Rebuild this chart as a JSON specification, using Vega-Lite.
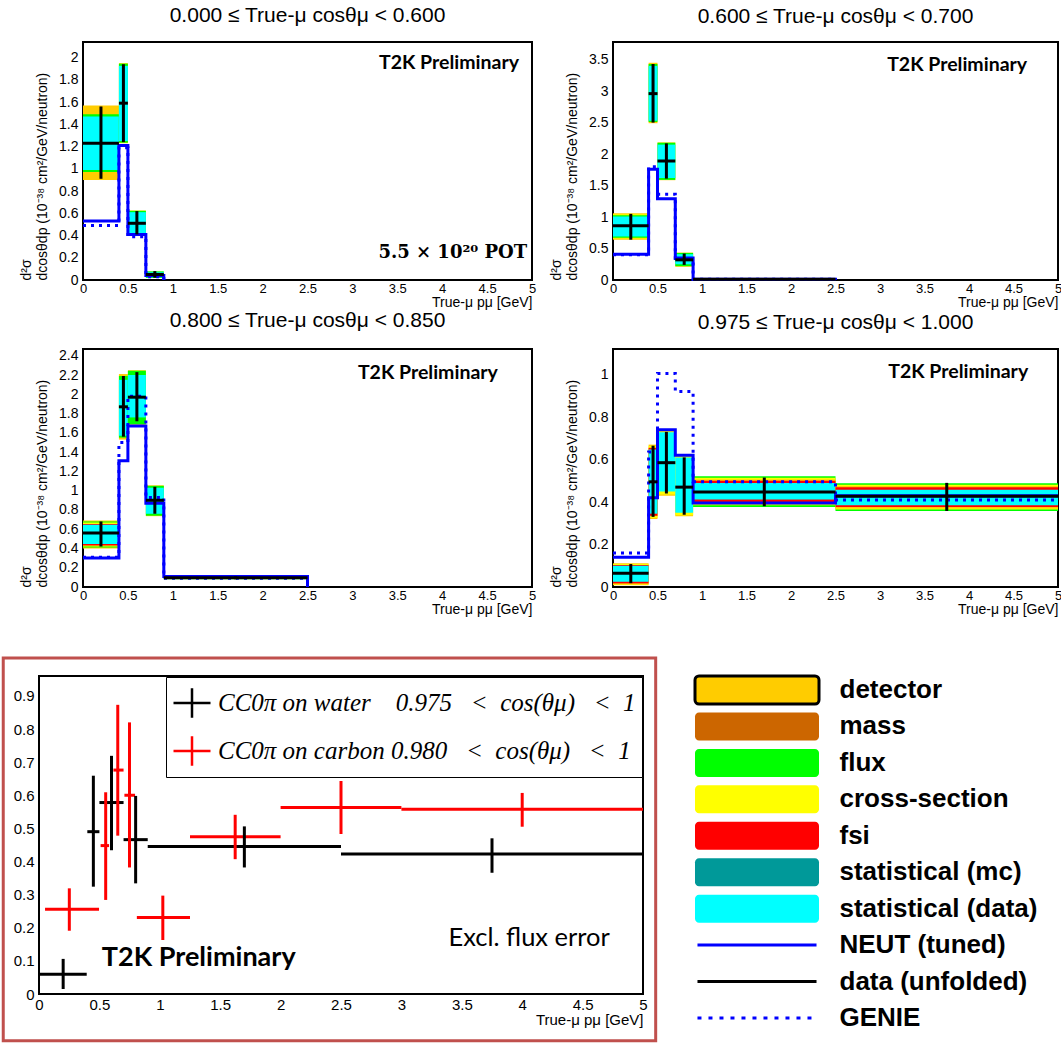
{
"$schema": "https://vega.github.io/schema/vega-lite/v6.json",
"padding": {"left": 0, "top": 4, "right": 0, "bottom": 0},
"background": "white",
"config": {"font": "Liberation Sans", "view": {"stroke": null}, "axis": {"labelColor": "black", "titleColor": "black", "tickColor": "black", "labelFont": "Liberation Sans", "titleFont": "Liberation Sans"}, "title": {"color": "black"}},
"datasets": {
"bands": [
{"panel":1,"plo":0,"phi":0.4,"comp":"detector","lo":0.90,"hi":1.57},
{"panel":1,"plo":0,"phi":0.4,"comp":"flux","lo":0.97,"hi":1.49},
{"panel":1,"plo":0,"phi":0.4,"comp":"statistical (data)","lo":0.99,"hi":1.47},
{"panel":1,"plo":0.4,"phi":0.5,"comp":"detector","lo":1.23,"hi":1.95},
{"panel":1,"plo":0.4,"phi":0.5,"comp":"flux","lo":1.235,"hi":1.945},
{"panel":1,"plo":0.4,"phi":0.5,"comp":"statistical (data)","lo":1.25,"hi":1.925},
{"panel":1,"plo":0.5,"phi":0.7,"comp":"detector","lo":0.40,"hi":0.625},
{"panel":1,"plo":0.5,"phi":0.7,"comp":"flux","lo":0.403,"hi":0.622},
{"panel":1,"plo":0.5,"phi":0.7,"comp":"statistical (data)","lo":0.41,"hi":0.61},
{"panel":1,"plo":0.7,"phi":0.9,"comp":"flux","lo":0.018,"hi":0.078},
{"panel":1,"plo":0.7,"phi":0.9,"comp":"statistical (data)","lo":0.025,"hi":0.07},
{"panel":2,"plo":0,"phi":0.4,"comp":"detector","lo":0.64,"hi":1.06},
{"panel":2,"plo":0,"phi":0.4,"comp":"cross-section","lo":0.66,"hi":1.045},
{"panel":2,"plo":0,"phi":0.4,"comp":"flux","lo":0.67,"hi":1.03},
{"panel":2,"plo":0,"phi":0.4,"comp":"statistical (data)","lo":0.69,"hi":1.01},
{"panel":2,"plo":0.4,"phi":0.5,"comp":"detector","lo":2.49,"hi":3.45},
{"panel":2,"plo":0.4,"phi":0.5,"comp":"flux","lo":2.51,"hi":3.43},
{"panel":2,"plo":0.4,"phi":0.5,"comp":"statistical (data)","lo":2.53,"hi":3.40},
{"panel":2,"plo":0.5,"phi":0.7,"comp":"detector","lo":1.585,"hi":2.185},
{"panel":2,"plo":0.5,"phi":0.7,"comp":"flux","lo":1.59,"hi":2.18},
{"panel":2,"plo":0.5,"phi":0.7,"comp":"statistical (data)","lo":1.62,"hi":2.15},
{"panel":2,"plo":0.7,"phi":0.9,"comp":"detector","lo":0.21,"hi":0.435},
{"panel":2,"plo":0.7,"phi":0.9,"comp":"flux","lo":0.22,"hi":0.43},
{"panel":2,"plo":0.7,"phi":0.9,"comp":"statistical (data)","lo":0.25,"hi":0.41},
{"panel":2,"plo":0.9,"phi":2.5,"comp":"statistical (data)","lo":0.0,"hi":0.025},
{"panel":3,"plo":0,"phi":0.4,"comp":"detector","lo":0.40,"hi":0.69},
{"panel":3,"plo":0,"phi":0.4,"comp":"flux","lo":0.41,"hi":0.68},
{"panel":3,"plo":0,"phi":0.4,"comp":"cross-section","lo":0.42,"hi":0.67},
{"panel":3,"plo":0,"phi":0.4,"comp":"fsi","lo":0.43,"hi":0.655},
{"panel":3,"plo":0,"phi":0.4,"comp":"statistical (data)","lo":0.445,"hi":0.645},
{"panel":3,"plo":0.4,"phi":0.5,"comp":"detector","lo":1.53,"hi":2.21},
{"panel":3,"plo":0.4,"phi":0.5,"comp":"flux","lo":1.55,"hi":2.19},
{"panel":3,"plo":0.4,"phi":0.5,"comp":"statistical (data)","lo":1.57,"hi":2.15},
{"panel":3,"plo":0.5,"phi":0.7,"comp":"detector","lo":1.685,"hi":2.25},
{"panel":3,"plo":0.5,"phi":0.7,"comp":"flux","lo":1.69,"hi":2.245},
{"panel":3,"plo":0.5,"phi":0.7,"comp":"statistical (data)","lo":1.76,"hi":2.20},
{"panel":3,"plo":0.7,"phi":0.9,"comp":"detector","lo":0.735,"hi":1.055},
{"panel":3,"plo":0.7,"phi":0.9,"comp":"flux","lo":0.74,"hi":1.05},
{"panel":3,"plo":0.7,"phi":0.9,"comp":"statistical (data)","lo":0.76,"hi":1.03},
{"panel":3,"plo":0.9,"phi":2.5,"comp":"flux","lo":0.08,"hi":0.11},
{"panel":3,"plo":0.9,"phi":2.5,"comp":"statistical (data)","lo":0.085,"hi":0.105},
{"panel":4,"plo":0,"phi":0.4,"comp":"detector","lo":0.008,"hi":0.112},
{"panel":4,"plo":0,"phi":0.4,"comp":"cross-section","lo":0.012,"hi":0.108},
{"panel":4,"plo":0,"phi":0.4,"comp":"fsi","lo":0.017,"hi":0.104},
{"panel":4,"plo":0,"phi":0.4,"comp":"statistical (data)","lo":0.025,"hi":0.10},
{"panel":4,"plo":0.4,"phi":0.5,"comp":"detector","lo":0.32,"hi":0.67},
{"panel":4,"plo":0.4,"phi":0.5,"comp":"cross-section","lo":0.325,"hi":0.664},
{"panel":4,"plo":0.4,"phi":0.5,"comp":"fsi","lo":0.335,"hi":0.655},
{"panel":4,"plo":0.4,"phi":0.5,"comp":"statistical (data)","lo":0.345,"hi":0.647},
{"panel":4,"plo":0.5,"phi":0.7,"comp":"detector","lo":0.43,"hi":0.737},
{"panel":4,"plo":0.5,"phi":0.7,"comp":"cross-section","lo":0.435,"hi":0.733},
{"panel":4,"plo":0.5,"phi":0.7,"comp":"statistical (data)","lo":0.45,"hi":0.728},
{"panel":4,"plo":0.7,"phi":0.9,"comp":"detector","lo":0.333,"hi":0.622},
{"panel":4,"plo":0.7,"phi":0.9,"comp":"cross-section","lo":0.338,"hi":0.617},
{"panel":4,"plo":0.7,"phi":0.9,"comp":"statistical (data)","lo":0.35,"hi":0.61},
{"panel":4,"plo":0.9,"phi":2.5,"comp":"flux","lo":0.377,"hi":0.521},
{"panel":4,"plo":0.9,"phi":2.5,"comp":"cross-section","lo":0.385,"hi":0.514},
{"panel":4,"plo":0.9,"phi":2.5,"comp":"detector","lo":0.39,"hi":0.506},
{"panel":4,"plo":0.9,"phi":2.5,"comp":"fsi","lo":0.40,"hi":0.50},
{"panel":4,"plo":0.9,"phi":2.5,"comp":"statistical (data)","lo":0.412,"hi":0.49},
{"panel":4,"plo":2.5,"phi":5,"comp":"flux","lo":0.358,"hi":0.488},
{"panel":4,"plo":2.5,"phi":5,"comp":"cross-section","lo":0.365,"hi":0.481},
{"panel":4,"plo":2.5,"phi":5,"comp":"detector","lo":0.37,"hi":0.475},
{"panel":4,"plo":2.5,"phi":5,"comp":"fsi","lo":0.376,"hi":0.469},
{"panel":4,"plo":2.5,"phi":5,"comp":"statistical (data)","lo":0.385,"hi":0.458}
],
"neut": [
{"panel":1,"p":0,"v":0.53},{"panel":1,"p":0.4,"v":1.21},{"panel":1,"p":0.5,"v":0.41},{"panel":1,"p":0.7,"v":0.04},{"panel":1,"p":0.9,"v":0},
{"panel":2,"p":0,"v":0.41},{"panel":2,"p":0.4,"v":1.76},{"panel":2,"p":0.5,"v":1.29},{"panel":2,"p":0.7,"v":0.35},{"panel":2,"p":0.9,"v":0.01},{"panel":2,"p":2.5,"v":0},
{"panel":3,"p":0,"v":0.30},{"panel":3,"p":0.4,"v":1.31},{"panel":3,"p":0.5,"v":1.67},{"panel":3,"p":0.7,"v":0.87},{"panel":3,"p":0.9,"v":0.11},{"panel":3,"p":2.5,"v":0},
{"panel":4,"p":0,"v":0.14},{"panel":4,"p":0.4,"v":0.42},{"panel":4,"p":0.5,"v":0.74},{"panel":4,"p":0.7,"v":0.62},{"panel":4,"p":0.9,"v":0.395},{"panel":4,"p":2.5,"v":0.43},{"panel":4,"p":5,"v":0.43}
],
"genie": [
{"panel":1,"p":0,"v":0.49},{"panel":1,"p":0.4,"v":1.19},{"panel":1,"p":0.5,"v":0.39},{"panel":1,"p":0.7,"v":0.03},{"panel":1,"p":0.9,"v":0},
{"panel":2,"p":0,"v":0.40},{"panel":2,"p":0.4,"v":1.80},{"panel":2,"p":0.5,"v":1.36},{"panel":2,"p":0.7,"v":0.34},{"panel":2,"p":0.9,"v":0.01},{"panel":2,"p":2.5,"v":0},
{"panel":3,"p":0,"v":0.31},{"panel":3,"p":0.4,"v":1.50},{"panel":3,"p":0.5,"v":1.98},{"panel":3,"p":0.7,"v":0.93},{"panel":3,"p":0.9,"v":0.09},{"panel":3,"p":2.5,"v":0},
{"panel":4,"p":0,"v":0.16},{"panel":4,"p":0.4,"v":0.635},{"panel":4,"p":0.5,"v":1.005},{"panel":4,"p":0.7,"v":0.92},{"panel":4,"p":0.9,"v":0.495},{"panel":4,"p":2.5,"v":0.41},{"panel":4,"p":5,"v":0.41}
],
"pts": [
{"panel":1,"plo":0,"phi":0.4,"pc":0.2,"v":1.23,"lo":0.91,"hi":1.56},
{"panel":1,"plo":0.4,"phi":0.5,"pc":0.45,"v":1.59,"lo":1.24,"hi":1.94},
{"panel":1,"plo":0.5,"phi":0.7,"pc":0.6,"v":0.51,"lo":0.41,"hi":0.62},
{"panel":1,"plo":0.7,"phi":0.9,"pc":0.8,"v":0.05,"lo":0.02,"hi":0.08},
{"panel":2,"plo":0,"phi":0.4,"pc":0.2,"v":0.86,"lo":0.64,"hi":1.05},
{"panel":2,"plo":0.4,"phi":0.5,"pc":0.45,"v":2.96,"lo":2.5,"hi":3.43},
{"panel":2,"plo":0.5,"phi":0.7,"pc":0.6,"v":1.89,"lo":1.61,"hi":2.17},
{"panel":2,"plo":0.7,"phi":0.9,"pc":0.8,"v":0.32,"lo":0.24,"hi":0.42},
{"panel":2,"plo":0.9,"phi":2.5,"pc":1.7,"v":0.01,"lo":0.0,"hi":0.02},
{"panel":3,"plo":0,"phi":0.4,"pc":0.2,"v":0.56,"lo":0.42,"hi":0.68},
{"panel":3,"plo":0.4,"phi":0.5,"pc":0.45,"v":1.87,"lo":1.56,"hi":2.19},
{"panel":3,"plo":0.5,"phi":0.7,"pc":0.6,"v":1.97,"lo":1.72,"hi":2.23},
{"panel":3,"plo":0.7,"phi":0.9,"pc":0.8,"v":0.9,"lo":0.76,"hi":1.04},
{"panel":3,"plo":0.9,"phi":2.5,"pc":1.7,"v":0.095,"lo":0.08,"hi":0.11},
{"panel":4,"plo":0,"phi":0.4,"pc":0.2,"v":0.065,"lo":0.018,"hi":0.108},
{"panel":4,"plo":0.4,"phi":0.5,"pc":0.45,"v":0.495,"lo":0.33,"hi":0.665},
{"panel":4,"plo":0.5,"phi":0.7,"pc":0.6,"v":0.585,"lo":0.44,"hi":0.73},
{"panel":4,"plo":0.7,"phi":0.9,"pc":0.8,"v":0.47,"lo":0.34,"hi":0.61},
{"panel":4,"plo":0.9,"phi":2.5,"pc":1.7,"v":0.447,"lo":0.38,"hi":0.515},
{"panel":4,"plo":2.5,"phi":5,"pc":3.75,"v":0.427,"lo":0.358,"hi":0.49}
],
"wc": [
{"series":"CC0π on water\u00a0\u00a0\u00a0 0.975\u00a0\u00a0\u00a0<\u00a0\u00a0cos(θμ)\u00a0\u00a0\u00a0<\u00a0\u00a01","plo":0,"phi":0.395,"pc":0.2,"v":0.06,"lo":0.015,"hi":0.106},
{"series":"CC0π on water\u00a0\u00a0\u00a0 0.975\u00a0\u00a0\u00a0<\u00a0\u00a0cos(θμ)\u00a0\u00a0\u00a0<\u00a0\u00a01","plo":0.4,"phi":0.5,"pc":0.45,"v":0.49,"lo":0.324,"hi":0.659},
{"series":"CC0π on water\u00a0\u00a0\u00a0 0.975\u00a0\u00a0\u00a0<\u00a0\u00a0cos(θμ)\u00a0\u00a0\u00a0<\u00a0\u00a01","plo":0.5,"phi":0.7,"pc":0.6,"v":0.578,"lo":0.434,"hi":0.719},
{"series":"CC0π on water\u00a0\u00a0\u00a0 0.975\u00a0\u00a0\u00a0<\u00a0\u00a0cos(θμ)\u00a0\u00a0\u00a0<\u00a0\u00a01","plo":0.7,"phi":0.9,"pc":0.8,"v":0.466,"lo":0.334,"hi":0.598},
{"series":"CC0π on water\u00a0\u00a0\u00a0 0.975\u00a0\u00a0\u00a0<\u00a0\u00a0cos(θμ)\u00a0\u00a0\u00a0<\u00a0\u00a01","plo":0.9,"phi":2.5,"pc":1.7,"v":0.445,"lo":0.382,"hi":0.506},
{"series":"CC0π on water\u00a0\u00a0\u00a0 0.975\u00a0\u00a0\u00a0<\u00a0\u00a0cos(θμ)\u00a0\u00a0\u00a0<\u00a0\u00a01","plo":2.5,"phi":5,"pc":3.75,"v":0.423,"lo":0.366,"hi":0.47},
{"series":"CC0π on carbon 0.980\u00a0\u00a0\u00a0<\u00a0\u00a0cos(θμ)\u00a0\u00a0\u00a0<\u00a0\u00a01","plo":0.05,"phi":0.497,"pc":0.251,"v":0.256,"lo":0.191,"hi":0.319},
{"series":"CC0π on carbon 0.980\u00a0\u00a0\u00a0<\u00a0\u00a0cos(θμ)\u00a0\u00a0\u00a0<\u00a0\u00a01","plo":0.51,"phi":0.58,"pc":0.552,"v":0.448,"lo":0.284,"hi":0.609},
{"series":"CC0π on carbon 0.980\u00a0\u00a0\u00a0<\u00a0\u00a0cos(θμ)\u00a0\u00a0\u00a0<\u00a0\u00a01","plo":0.616,"phi":0.7,"pc":0.652,"v":0.676,"lo":0.478,"hi":0.873},
{"series":"CC0π on carbon 0.980\u00a0\u00a0\u00a0<\u00a0\u00a0cos(θμ)\u00a0\u00a0\u00a0<\u00a0\u00a01","plo":0.707,"phi":0.795,"pc":0.749,"v":0.6,"lo":0.382,"hi":0.82},
{"series":"CC0π on carbon 0.980\u00a0\u00a0\u00a0<\u00a0\u00a0cos(θμ)\u00a0\u00a0\u00a0<\u00a0\u00a01","plo":0.81,"phi":1.25,"pc":1.025,"v":0.231,"lo":0.163,"hi":0.297},
{"series":"CC0π on carbon 0.980\u00a0\u00a0\u00a0<\u00a0\u00a0cos(θμ)\u00a0\u00a0\u00a0<\u00a0\u00a01","plo":1.25,"phi":2.0,"pc":1.624,"v":0.475,"lo":0.407,"hi":0.541},
{"series":"CC0π on carbon 0.980\u00a0\u00a0\u00a0<\u00a0\u00a0cos(θμ)\u00a0\u00a0\u00a0<\u00a0\u00a01","plo":2.0,"phi":3.0,"pc":2.5,"v":0.563,"lo":0.483,"hi":0.643},
{"series":"CC0π on carbon 0.980\u00a0\u00a0\u00a0<\u00a0\u00a0cos(θμ)\u00a0\u00a0\u00a0<\u00a0\u00a01","plo":3.0,"phi":5.0,"pc":4.0,"v":0.558,"lo":0.505,"hi":0.607}
],
"items": [
{"item":"detector","kind":"band"},{"item":"mass","kind":"band"},{"item":"flux","kind":"band"},{"item":"cross-section","kind":"band"},{"item":"fsi","kind":"band"},{"item":"statistical (mc)","kind":"band"},{"item":"statistical (data)","kind":"band"},{"item":"NEUT (tuned)","kind":"line"},{"item":"data (unfolded)","kind":"line"},{"item":"GENIE","kind":"line"}
]
},
"resolve": {"scale": {"color": "independent", "fill": "independent", "strokeDash": "independent"}, "legend": {"color": "independent"}},
"spacing": 38,
"vconcat": [
{"hconcat": [
{"width": 1, "height": 1, "view": {"stroke": null}, "data": {"values": [{"t": ""}]}, "mark": {"type": "text"}, "encoding": {"text": {"field": "t"}}},
{"vconcat": [
{"hconcat": [
{"width": 449, "height": 238, "view": {"stroke": "black", "strokeWidth": 2},
 "title": {"text": "0.000 ≤ True-μ cosθμ < 0.600", "fontSize": 21, "fontWeight": "normal", "font": "Liberation Sans", "offset": 13, "color": "black"},
 "layer": [
  {"data": {"name": "bands"}, "transform": [{"filter": "datum.panel == 1"}], "mark": {"type": "rect"},
   "encoding": {
    "x": {"field": "plo", "type": "quantitative", "scale": {"domain": [0, 5], "nice": false},
      "axis": {"title": "True-μ pμ [GeV]", "titleAnchor": "end", "titleFontSize": 14, "titleFontWeight": "normal", "titlePadding": 0, "tickCount": 50, "tickSize": 0, "tickWidth": 1.5, "domain": false, "grid": false, "labelExpr": "abs(datum.value*2-round(datum.value*2)) < 1e-6 ? format(datum.value, '~g') : ''", "labelFontSize": 13, "labelPadding": 2, "labelOverlap": false, "labelFlush": false, "labelBound": false, "encode": {"ticks": {"update": {"y2": {"signal": "abs(datum.value*2-round(datum.value*2)) < 1e-6 ? -7 : -3.5"}}}}}},
    "x2": {"field": "phi"},
    "y": {"field": "lo", "type": "quantitative", "scale": {"domain": [0, 2.14], "nice": false},
      "axis": {"title": ["", "\u00a0\u00a0\u00a0d²σ", "dcosθdp  (10⁻³⁸ cm²/GeV/neutron)"], "titleAnchor": "start", "titleAlign": "left", "titleFontSize": 14, "titleFontWeight": "normal", "titlePadding": 9, "titleLineHeight": 16, "tickCount": 50, "tickSize": 0, "tickWidth": 1.5, "domain": false, "grid": false, "labelExpr": "abs(datum.value*5-round(datum.value*5)) < 1e-6 ? format(datum.value, '~g') : ''", "labelFontSize": 14, "labelPadding": 5, "labelOverlap": false, "labelFlush": false, "labelBound": false, "encode": {"ticks": {"update": {"x2": {"signal": "abs(datum.value*5-round(datum.value*5)) < 1e-6 ? 13 : 7"}}}}}},
    "y2": {"field": "hi"},
    "color": {"field": "comp", "type": "nominal", "scale": {"domain": ["detector","mass","flux","cross-section","fsi","statistical (mc)","statistical (data)"], "range": ["#FFCC00","#CC6600","#00FF00","#FFFF00","#FF0000","#009999","#00FFFF"]}, "legend": null}
   }},
  {"data": {"name": "neut"}, "transform": [{"filter": "datum.panel == 1"}], "mark": {"type": "line", "interpolate": "step-after", "color": "#0000FF", "strokeWidth": 3},
   "encoding": {"x": {"field": "p", "type": "quantitative"}, "y": {"field": "v", "type": "quantitative"}}},
  {"data": {"name": "genie"}, "transform": [{"filter": "datum.panel == 1"}], "mark": {"type": "line", "interpolate": "step-after", "color": "#0000FF", "strokeWidth": 3, "strokeDash": [3, 5]},
   "encoding": {"x": {"field": "p", "type": "quantitative"}, "y": {"field": "v", "type": "quantitative"}}},
  {"data": {"name": "pts"}, "transform": [{"filter": "datum.panel == 1"}], "mark": {"type": "rule", "color": "black", "strokeWidth": 3},
   "encoding": {"x": {"field": "plo", "type": "quantitative"}, "x2": {"field": "phi"}, "y": {"field": "v", "type": "quantitative"}}},
  {"data": {"name": "pts"}, "transform": [{"filter": "datum.panel == 1"}], "mark": {"type": "rule", "color": "black", "strokeWidth": 3},
   "encoding": {"x": {"field": "pc", "type": "quantitative"}, "y": {"field": "lo", "type": "quantitative"}, "y2": {"field": "hi"}}},
  {"data": {"values": [{"t": "T2K Preliminary"}]}, "mark": {"type": "text", "font": "Lato", "fontWeight": "bold", "fontSize": 19.5, "align": "right", "baseline": "middle", "color": "black"},
   "encoding": {"x": {"datum": 4.855, "type": "quantitative"}, "y": {"datum": 1.955, "type": "quantitative"}, "text": {"field": "t"}}},
  {"data": {"values": [{"t": "5.5 × 10²⁰ POT"}]}, "mark": {"type": "text", "font": "DejaVu Serif", "fontWeight": "bold", "fontSize": 18, "align": "right", "baseline": "middle", "color": "black"},
   "encoding": {"x": {"datum": 4.945, "type": "quantitative"}, "y": {"datum": 0.243, "type": "quantitative"}, "text": {"field": "t"}}}
 ]},
{"width": 445, "height": 238, "view": {"stroke": "black", "strokeWidth": 2},
 "title": {"text": "0.600 ≤ True-μ cosθμ < 0.700", "fontSize": 21, "fontWeight": "normal", "font": "Liberation Sans", "offset": 13, "color": "black"},
 "layer": [
  {"data": {"name": "bands"}, "transform": [{"filter": "datum.panel == 2"}], "mark": {"type": "rect"},
   "encoding": {
    "x": {"field": "plo", "type": "quantitative", "scale": {"domain": [0, 5], "nice": false},
      "axis": {"title": "True-μ pμ [GeV]", "titleAnchor": "end", "titleFontSize": 14, "titleFontWeight": "normal", "titlePadding": 0, "tickCount": 50, "tickSize": 0, "tickWidth": 1.5, "domain": false, "grid": false, "labelExpr": "abs(datum.value*2-round(datum.value*2)) < 1e-6 ? format(datum.value, '~g') : ''", "labelFontSize": 13, "labelPadding": 2, "labelOverlap": false, "labelFlush": false, "labelBound": false, "encode": {"ticks": {"update": {"y2": {"signal": "abs(datum.value*2-round(datum.value*2)) < 1e-6 ? -7 : -3.5"}}}}}},
    "x2": {"field": "phi"},
    "y": {"field": "lo", "type": "quantitative", "scale": {"domain": [0, 3.78], "nice": false},
      "axis": {"title": ["", "\u00a0\u00a0\u00a0d²σ", "dcosθdp  (10⁻³⁸ cm²/GeV/neutron)"], "titleAnchor": "start", "titleAlign": "left", "titleFontSize": 14, "titleFontWeight": "normal", "titlePadding": 9, "titleLineHeight": 16, "tickCount": 38, "tickSize": 0, "tickWidth": 1.5, "domain": false, "grid": false, "labelExpr": "abs(datum.value*2-round(datum.value*2)) < 1e-6 ? format(datum.value, '~g') : ''", "labelFontSize": 14, "labelPadding": 5, "labelOverlap": false, "labelFlush": false, "labelBound": false, "encode": {"ticks": {"update": {"x2": {"signal": "abs(datum.value*2-round(datum.value*2)) < 1e-6 ? 13 : 7"}}}}}},
    "y2": {"field": "hi"},
    "color": {"field": "comp", "type": "nominal", "scale": {"domain": ["detector","mass","flux","cross-section","fsi","statistical (mc)","statistical (data)"], "range": ["#FFCC00","#CC6600","#00FF00","#FFFF00","#FF0000","#009999","#00FFFF"]}, "legend": null}
   }},
  {"data": {"name": "neut"}, "transform": [{"filter": "datum.panel == 2"}], "mark": {"type": "line", "interpolate": "step-after", "color": "#0000FF", "strokeWidth": 3},
   "encoding": {"x": {"field": "p", "type": "quantitative"}, "y": {"field": "v", "type": "quantitative"}}},
  {"data": {"name": "genie"}, "transform": [{"filter": "datum.panel == 2"}], "mark": {"type": "line", "interpolate": "step-after", "color": "#0000FF", "strokeWidth": 3, "strokeDash": [3, 5]},
   "encoding": {"x": {"field": "p", "type": "quantitative"}, "y": {"field": "v", "type": "quantitative"}}},
  {"data": {"name": "pts"}, "transform": [{"filter": "datum.panel == 2"}], "mark": {"type": "rule", "color": "black", "strokeWidth": 3},
   "encoding": {"x": {"field": "plo", "type": "quantitative"}, "x2": {"field": "phi"}, "y": {"field": "v", "type": "quantitative"}}},
  {"data": {"name": "pts"}, "transform": [{"filter": "datum.panel == 2"}], "mark": {"type": "rule", "color": "black", "strokeWidth": 3},
   "encoding": {"x": {"field": "pc", "type": "quantitative"}, "y": {"field": "lo", "type": "quantitative"}, "y2": {"field": "hi"}}},
  {"data": {"values": [{"t": "T2K Preliminary"}]}, "mark": {"type": "text", "font": "Lato", "fontWeight": "bold", "fontSize": 19.5, "align": "right", "baseline": "middle", "color": "black"},
   "encoding": {"x": {"datum": 4.653, "type": "quantitative"}, "y": {"datum": 3.42, "type": "quantitative"}, "text": {"field": "t"}}}
 ]}
], "spacing": -5, "resolve": {"scale": {"color": "independent", "fill": "independent", "strokeDash": "independent"}, "legend": {"color": "independent"}}},
{"hconcat": [
{"width": 449, "height": 238, "view": {"stroke": "black", "strokeWidth": 2},
 "title": {"text": "0.800 ≤ True-μ cosθμ < 0.850", "fontSize": 21, "fontWeight": "normal", "font": "Liberation Sans", "offset": 13, "color": "black"},
 "layer": [
  {"data": {"name": "bands"}, "transform": [{"filter": "datum.panel == 3"}], "mark": {"type": "rect"},
   "encoding": {
    "x": {"field": "plo", "type": "quantitative", "scale": {"domain": [0, 5], "nice": false},
      "axis": {"title": "True-μ pμ [GeV]", "titleAnchor": "end", "titleFontSize": 14, "titleFontWeight": "normal", "titlePadding": 0, "tickCount": 50, "tickSize": 0, "tickWidth": 1.5, "domain": false, "grid": false, "labelExpr": "abs(datum.value*2-round(datum.value*2)) < 1e-6 ? format(datum.value, '~g') : ''", "labelFontSize": 13, "labelPadding": 2, "labelOverlap": false, "labelFlush": false, "labelBound": false, "encode": {"ticks": {"update": {"y2": {"signal": "abs(datum.value*2-round(datum.value*2)) < 1e-6 ? -7 : -3.5"}}}}}},
    "x2": {"field": "phi"},
    "y": {"field": "lo", "type": "quantitative", "scale": {"domain": [0, 2.47], "nice": false},
      "axis": {"title": ["", "\u00a0\u00a0\u00a0d²σ", "dcosθdp  (10⁻³⁸ cm²/GeV/neutron)"], "titleAnchor": "start", "titleAlign": "left", "titleFontSize": 14, "titleFontWeight": "normal", "titlePadding": 9, "titleLineHeight": 16, "tickCount": 50, "tickSize": 0, "tickWidth": 1.5, "domain": false, "grid": false, "labelExpr": "abs(datum.value*5-round(datum.value*5)) < 1e-6 ? format(datum.value, '~g') : ''", "labelFontSize": 14, "labelPadding": 5, "labelOverlap": false, "labelFlush": false, "labelBound": false, "encode": {"ticks": {"update": {"x2": {"signal": "abs(datum.value*5-round(datum.value*5)) < 1e-6 ? 13 : 7"}}}}}},
    "y2": {"field": "hi"},
    "color": {"field": "comp", "type": "nominal", "scale": {"domain": ["detector","mass","flux","cross-section","fsi","statistical (mc)","statistical (data)"], "range": ["#FFCC00","#CC6600","#00FF00","#FFFF00","#FF0000","#009999","#00FFFF"]}, "legend": null}
   }},
  {"data": {"name": "neut"}, "transform": [{"filter": "datum.panel == 3"}], "mark": {"type": "line", "interpolate": "step-after", "color": "#0000FF", "strokeWidth": 3},
   "encoding": {"x": {"field": "p", "type": "quantitative"}, "y": {"field": "v", "type": "quantitative"}}},
  {"data": {"name": "genie"}, "transform": [{"filter": "datum.panel == 3"}], "mark": {"type": "line", "interpolate": "step-after", "color": "#0000FF", "strokeWidth": 3, "strokeDash": [3, 5]},
   "encoding": {"x": {"field": "p", "type": "quantitative"}, "y": {"field": "v", "type": "quantitative"}}},
  {"data": {"name": "pts"}, "transform": [{"filter": "datum.panel == 3"}], "mark": {"type": "rule", "color": "black", "strokeWidth": 3},
   "encoding": {"x": {"field": "plo", "type": "quantitative"}, "x2": {"field": "phi"}, "y": {"field": "v", "type": "quantitative"}}},
  {"data": {"name": "pts"}, "transform": [{"filter": "datum.panel == 3"}], "mark": {"type": "rule", "color": "black", "strokeWidth": 3},
   "encoding": {"x": {"field": "pc", "type": "quantitative"}, "y": {"field": "lo", "type": "quantitative"}, "y2": {"field": "hi"}}},
  {"data": {"values": [{"t": "T2K Preliminary"}]}, "mark": {"type": "text", "font": "Lato", "fontWeight": "bold", "fontSize": 19.5, "align": "right", "baseline": "middle", "color": "black"},
   "encoding": {"x": {"datum": 4.62, "type": "quantitative"}, "y": {"datum": 2.22, "type": "quantitative"}, "text": {"field": "t"}}}
 ]},
{"width": 445, "height": 238, "view": {"stroke": "black", "strokeWidth": 2},
 "title": {"text": "0.975 ≤ True-μ cosθμ < 1.000", "fontSize": 21, "fontWeight": "normal", "font": "Liberation Sans", "offset": 13, "color": "black"},
 "layer": [
  {"data": {"name": "bands"}, "transform": [{"filter": "datum.panel == 4"}], "mark": {"type": "rect"},
   "encoding": {
    "x": {"field": "plo", "type": "quantitative", "scale": {"domain": [0, 5], "nice": false},
      "axis": {"title": "True-μ pμ [GeV]", "titleAnchor": "end", "titleFontSize": 14, "titleFontWeight": "normal", "titlePadding": 0, "tickCount": 50, "tickSize": 0, "tickWidth": 1.5, "domain": false, "grid": false, "labelExpr": "abs(datum.value*2-round(datum.value*2)) < 1e-6 ? format(datum.value, '~g') : ''", "labelFontSize": 13, "labelPadding": 2, "labelOverlap": false, "labelFlush": false, "labelBound": false, "encode": {"ticks": {"update": {"y2": {"signal": "abs(datum.value*2-round(datum.value*2)) < 1e-6 ? -7 : -3.5"}}}}}},
    "x2": {"field": "phi"},
    "y": {"field": "lo", "type": "quantitative", "scale": {"domain": [0, 1.12], "nice": false},
      "axis": {"title": ["", "\u00a0\u00a0\u00a0d²σ", "dcosθdp  (10⁻³⁸ cm²/GeV/neutron)"], "titleAnchor": "start", "titleAlign": "left", "titleFontSize": 14, "titleFontWeight": "normal", "titlePadding": 9, "titleLineHeight": 16, "tickCount": 23, "tickSize": 0, "tickWidth": 1.5, "domain": false, "grid": false, "labelExpr": "abs(datum.value*5-round(datum.value*5)) < 1e-6 ? format(datum.value, '~g') : ''", "labelFontSize": 14, "labelPadding": 5, "labelOverlap": false, "labelFlush": false, "labelBound": false, "encode": {"ticks": {"update": {"x2": {"signal": "abs(datum.value*5-round(datum.value*5)) < 1e-6 ? 13 : 7"}}}}}},
    "y2": {"field": "hi"},
    "color": {"field": "comp", "type": "nominal", "scale": {"domain": ["detector","mass","flux","cross-section","fsi","statistical (mc)","statistical (data)"], "range": ["#FFCC00","#CC6600","#00FF00","#FFFF00","#FF0000","#009999","#00FFFF"]}, "legend": null}
   }},
  {"data": {"name": "neut"}, "transform": [{"filter": "datum.panel == 4"}], "mark": {"type": "line", "interpolate": "step-after", "color": "#0000FF", "strokeWidth": 3},
   "encoding": {"x": {"field": "p", "type": "quantitative"}, "y": {"field": "v", "type": "quantitative"}}},
  {"data": {"name": "genie"}, "transform": [{"filter": "datum.panel == 4"}], "mark": {"type": "line", "interpolate": "step-after", "color": "#0000FF", "strokeWidth": 3, "strokeDash": [3, 5]},
   "encoding": {"x": {"field": "p", "type": "quantitative"}, "y": {"field": "v", "type": "quantitative"}}},
  {"data": {"name": "pts"}, "transform": [{"filter": "datum.panel == 4"}], "mark": {"type": "rule", "color": "black", "strokeWidth": 3},
   "encoding": {"x": {"field": "plo", "type": "quantitative"}, "x2": {"field": "phi"}, "y": {"field": "v", "type": "quantitative"}}},
  {"data": {"name": "pts"}, "transform": [{"filter": "datum.panel == 4"}], "mark": {"type": "rule", "color": "black", "strokeWidth": 3},
   "encoding": {"x": {"field": "pc", "type": "quantitative"}, "y": {"field": "lo", "type": "quantitative"}, "y2": {"field": "hi"}}},
  {"data": {"values": [{"t": "T2K Preliminary"}]}, "mark": {"type": "text", "font": "Lato", "fontWeight": "bold", "fontSize": 19.5, "align": "right", "baseline": "middle", "color": "black"},
   "encoding": {"x": {"datum": 4.665, "type": "quantitative"}, "y": {"datum": 1.01, "type": "quantitative"}, "text": {"field": "t"}}}
 ]}
], "spacing": -5, "resolve": {"scale": {"color": "independent", "fill": "independent", "strokeDash": "independent"}, "legend": {"color": "independent"}}}
], "spacing": -2, "resolve": {"scale": {"color": "independent", "fill": "independent", "strokeDash": "independent"}, "legend": {"color": "independent"}}}
], "spacing": -38, "resolve": {"scale": {"color": "independent", "fill": "independent", "strokeDash": "independent"}, "legend": {"color": "independent"}}},
{"hconcat": [
{"width": 604, "height": 318, "view": {"stroke": "black", "strokeWidth": 2},
 "layer": [
  {"data": {"name": "wc"}, "mark": {"type": "rule", "strokeWidth": 3},
   "encoding": {
    "x": {"field": "plo", "type": "quantitative", "scale": {"domain": [0, 5], "nice": false},
      "axis": {"title": "True-μ pμ [GeV]", "titleAnchor": "end", "titleFontSize": 15, "titleFontWeight": "normal", "titlePadding": 0, "tickCount": 50, "tickSize": 0, "tickWidth": 1.5, "domain": false, "grid": false, "labelExpr": "abs(datum.value*2-round(datum.value*2)) < 1e-6 ? format(datum.value, '~g') : ''", "labelFontSize": 15, "labelPadding": 3, "labelOverlap": false, "labelFlush": false, "labelBound": false, "encode": {"ticks": {"update": {"y2": {"signal": "abs(datum.value*2-round(datum.value*2)) < 1e-6 ? -9 : -4.5"}}}}}},
    "x2": {"field": "phi"},
    "y": {"field": "v", "type": "quantitative", "scale": {"domain": [0, 0.96], "nice": false},
      "axis": {"title": null, "tickCount": 48, "tickSize": 0, "tickWidth": 1.5, "domain": false, "grid": false, "labelExpr": "abs(datum.value*10-round(datum.value*10)) < 1e-6 ? format(datum.value, '~g') : ''", "labelFontSize": 15, "labelPadding": 5, "labelOverlap": false, "labelFlush": false, "labelBound": false, "encode": {"ticks": {"update": {"x2": {"signal": "abs(datum.value*10-round(datum.value*10)) < 1e-6 ? 16 : 8"}}}}}},
    "color": {"field": "series", "type": "nominal", "scale": {"domain": ["CC0π on water\u00a0\u00a0\u00a0 0.975\u00a0\u00a0\u00a0<\u00a0\u00a0cos(θμ)\u00a0\u00a0\u00a0<\u00a0\u00a01", "CC0π on carbon 0.980\u00a0\u00a0\u00a0<\u00a0\u00a0cos(θμ)\u00a0\u00a0\u00a0<\u00a0\u00a01"], "range": ["black", "#FF0000"]},
      "legend": {"orient": "top-right", "offset": 1, "title": null, "symbolType": "M-1,0H1M0,-0.8V0.8", "symbolSize": 1369, "symbolStrokeWidth": 2.5, "labelFont": "Liberation Serif", "labelFontStyle": "italic", "labelFontSize": 25, "labelColor": "black", "labelLimit": 600, "labelOffset": 6, "strokeColor": "black", "fillColor": "white", "padding": 6, "rowPadding": 8}}
   }},
  {"data": {"name": "wc"}, "mark": {"type": "rule", "strokeWidth": 3},
   "encoding": {"x": {"field": "pc", "type": "quantitative"}, "y": {"field": "lo", "type": "quantitative"}, "y2": {"field": "hi"}, "color": {"field": "series", "type": "nominal"}}},
  {"data": {"values": [{"t": "T2K Preliminary"}]}, "mark": {"type": "text", "font": "Lato", "fontWeight": "bold", "fontSize": 27, "align": "left", "baseline": "middle", "color": "black"},
   "encoding": {"x": {"datum": 0.52, "type": "quantitative"}, "y": {"datum": 0.11, "type": "quantitative"}, "text": {"field": "t"}}},
  {"data": {"values": [{"t": "Excl. flux error"}]}, "mark": {"type": "text", "font": "Lato", "fontSize": 25.5, "align": "left", "baseline": "middle", "color": "black"},
   "encoding": {"x": {"datum": 3.39, "type": "quantitative"}, "y": {"datum": 0.17, "type": "quantitative"}, "text": {"field": "t"}}},
  {"data": {"values": [{"frame": "border"}]}, "mark": {"type": "rect", "filled": false, "color": "#C0504D", "strokeWidth": 3},
   "encoding": {"x": {"datum": -0.296, "type": "quantitative"}, "x2": {"datum": 5.105}, "y": {"datum": -0.141, "type": "quantitative"}, "y2": {"datum": 1.0145}}}
 ]},
{"width": 124, "height": 356, "view": {"stroke": null},
 "data": {"name": "items"},
 "layer": [
  {"transform": [{"filter": "datum.kind == 'band'"}], "mark": {"type": "bar", "cornerRadius": 4, "strokeWidth": 3},
   "encoding": {
    "y": {"field": "item", "type": "nominal", "sort": null, "scale": {"domain": ["detector","mass","flux","cross-section","fsi","statistical (mc)","statistical (data)","NEUT (tuned)","data (unfolded)","GENIE"], "paddingInner": 0.23, "paddingOuter": 0},
      "axis": {"orient": "right", "title": null, "ticks": false, "domain": false, "labelFont": "Liberation Sans", "labelFontWeight": "bold", "labelFontSize": 26, "labelPadding": 20, "labelColor": "black", "labelLimit": 400}},
    "x": {"datum": 0, "type": "quantitative", "scale": {"domain": [0, 1], "nice": false}, "axis": null},
    "x2": {"datum": 1},
    "fill": {"field": "item", "type": "nominal", "scale": {"domain": ["detector","mass","flux","cross-section","fsi","statistical (mc)","statistical (data)"], "range": ["#FFCC00","#CC6600","#00FF00","#FFFF00","#FF0000","#009999","#00FFFF"]}, "legend": null},
    "stroke": {"condition": {"test": "datum.item == 'detector'", "value": "black"}, "value": "transparent"}
   }},
  {"transform": [{"filter": "datum.kind == 'line'"}], "mark": {"type": "rule", "strokeWidth": 3},
   "encoding": {
    "y": {"field": "item", "type": "nominal"},
    "x": {"datum": 0.02, "type": "quantitative"},
    "x2": {"datum": 0.98},
    "color": {"field": "item", "type": "nominal", "scale": {"domain": ["NEUT (tuned)","data (unfolded)","GENIE"], "range": ["#0000FF","black","#0000FF"]}, "legend": null},
    "strokeDash": {"field": "item", "type": "nominal", "scale": {"domain": ["NEUT (tuned)","data (unfolded)","GENIE"], "range": [[1,0],[1,0],[4,7]]}, "legend": null}
   }}
 ]}
], "spacing": 34, "resolve": {"scale": {"color": "independent", "fill": "independent", "strokeDash": "independent"}, "legend": {"color": "independent"}}}
]
}
